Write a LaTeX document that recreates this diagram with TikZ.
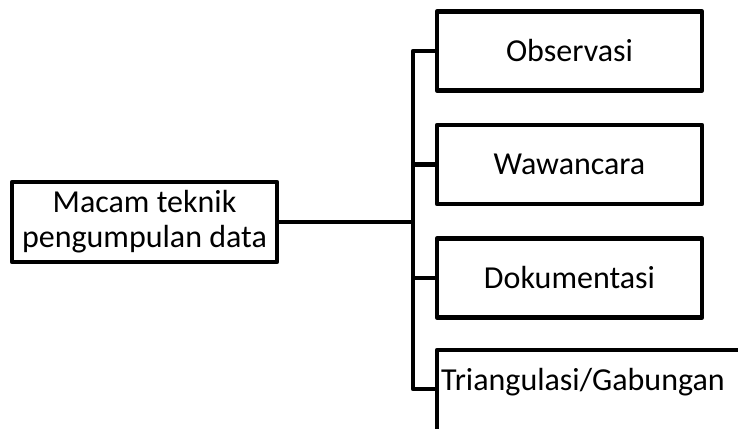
\documentclass[tikz,border=0pt]{standalone}
\usepackage{fontspec}
\setmainfont{Carlito}
\begin{document}
\begin{tikzpicture}[x=1pt,y=-1pt,
  box/.style={draw=black,line width=4.5pt,line join=round,minimum width=265pt,minimum height=79pt,inner sep=0pt,align=center,font=\fontsize{32}{35}\selectfont},
  lbl/.style={inner sep=0pt,font=\fontsize{32}{35}\selectfont},
  conn/.style={draw=black,line width=4.5pt,line join=round}]
\useasboundingbox (0,0) rectangle (738,428);
\node[box,minimum height=80pt] (main) at (144.5,222) {Macam teknik\\pengumpulan data};
\node[box] (obs) at (569.5,51) {Observasi};
\node[box] (waw) at (569.5,164.5) {Wawancara};
\node[box] (dok) at (569.5,278) {Dokumentasi};
\node[lbl,anchor=base west] (tri) at (441,390) {Triangulasi/Gabungan};
\coordinate (trileft) at (437,389);
\coordinate (trunk) at (413,222);
\begin{scope}
\clip (0,0) rectangle (738,428);
\draw[conn] (760,350) -- (437,350) -- (437,440);
\end{scope}
\draw[conn] (main.east) -- (trunk);
\draw[conn] (obs.west) -| (trunk) |- (trileft);
\draw[conn] (waw.west) -- (waw.west -| trunk);
\draw[conn] (dok.west) -- (dok.west -| trunk);
\end{tikzpicture}
\end{document}
